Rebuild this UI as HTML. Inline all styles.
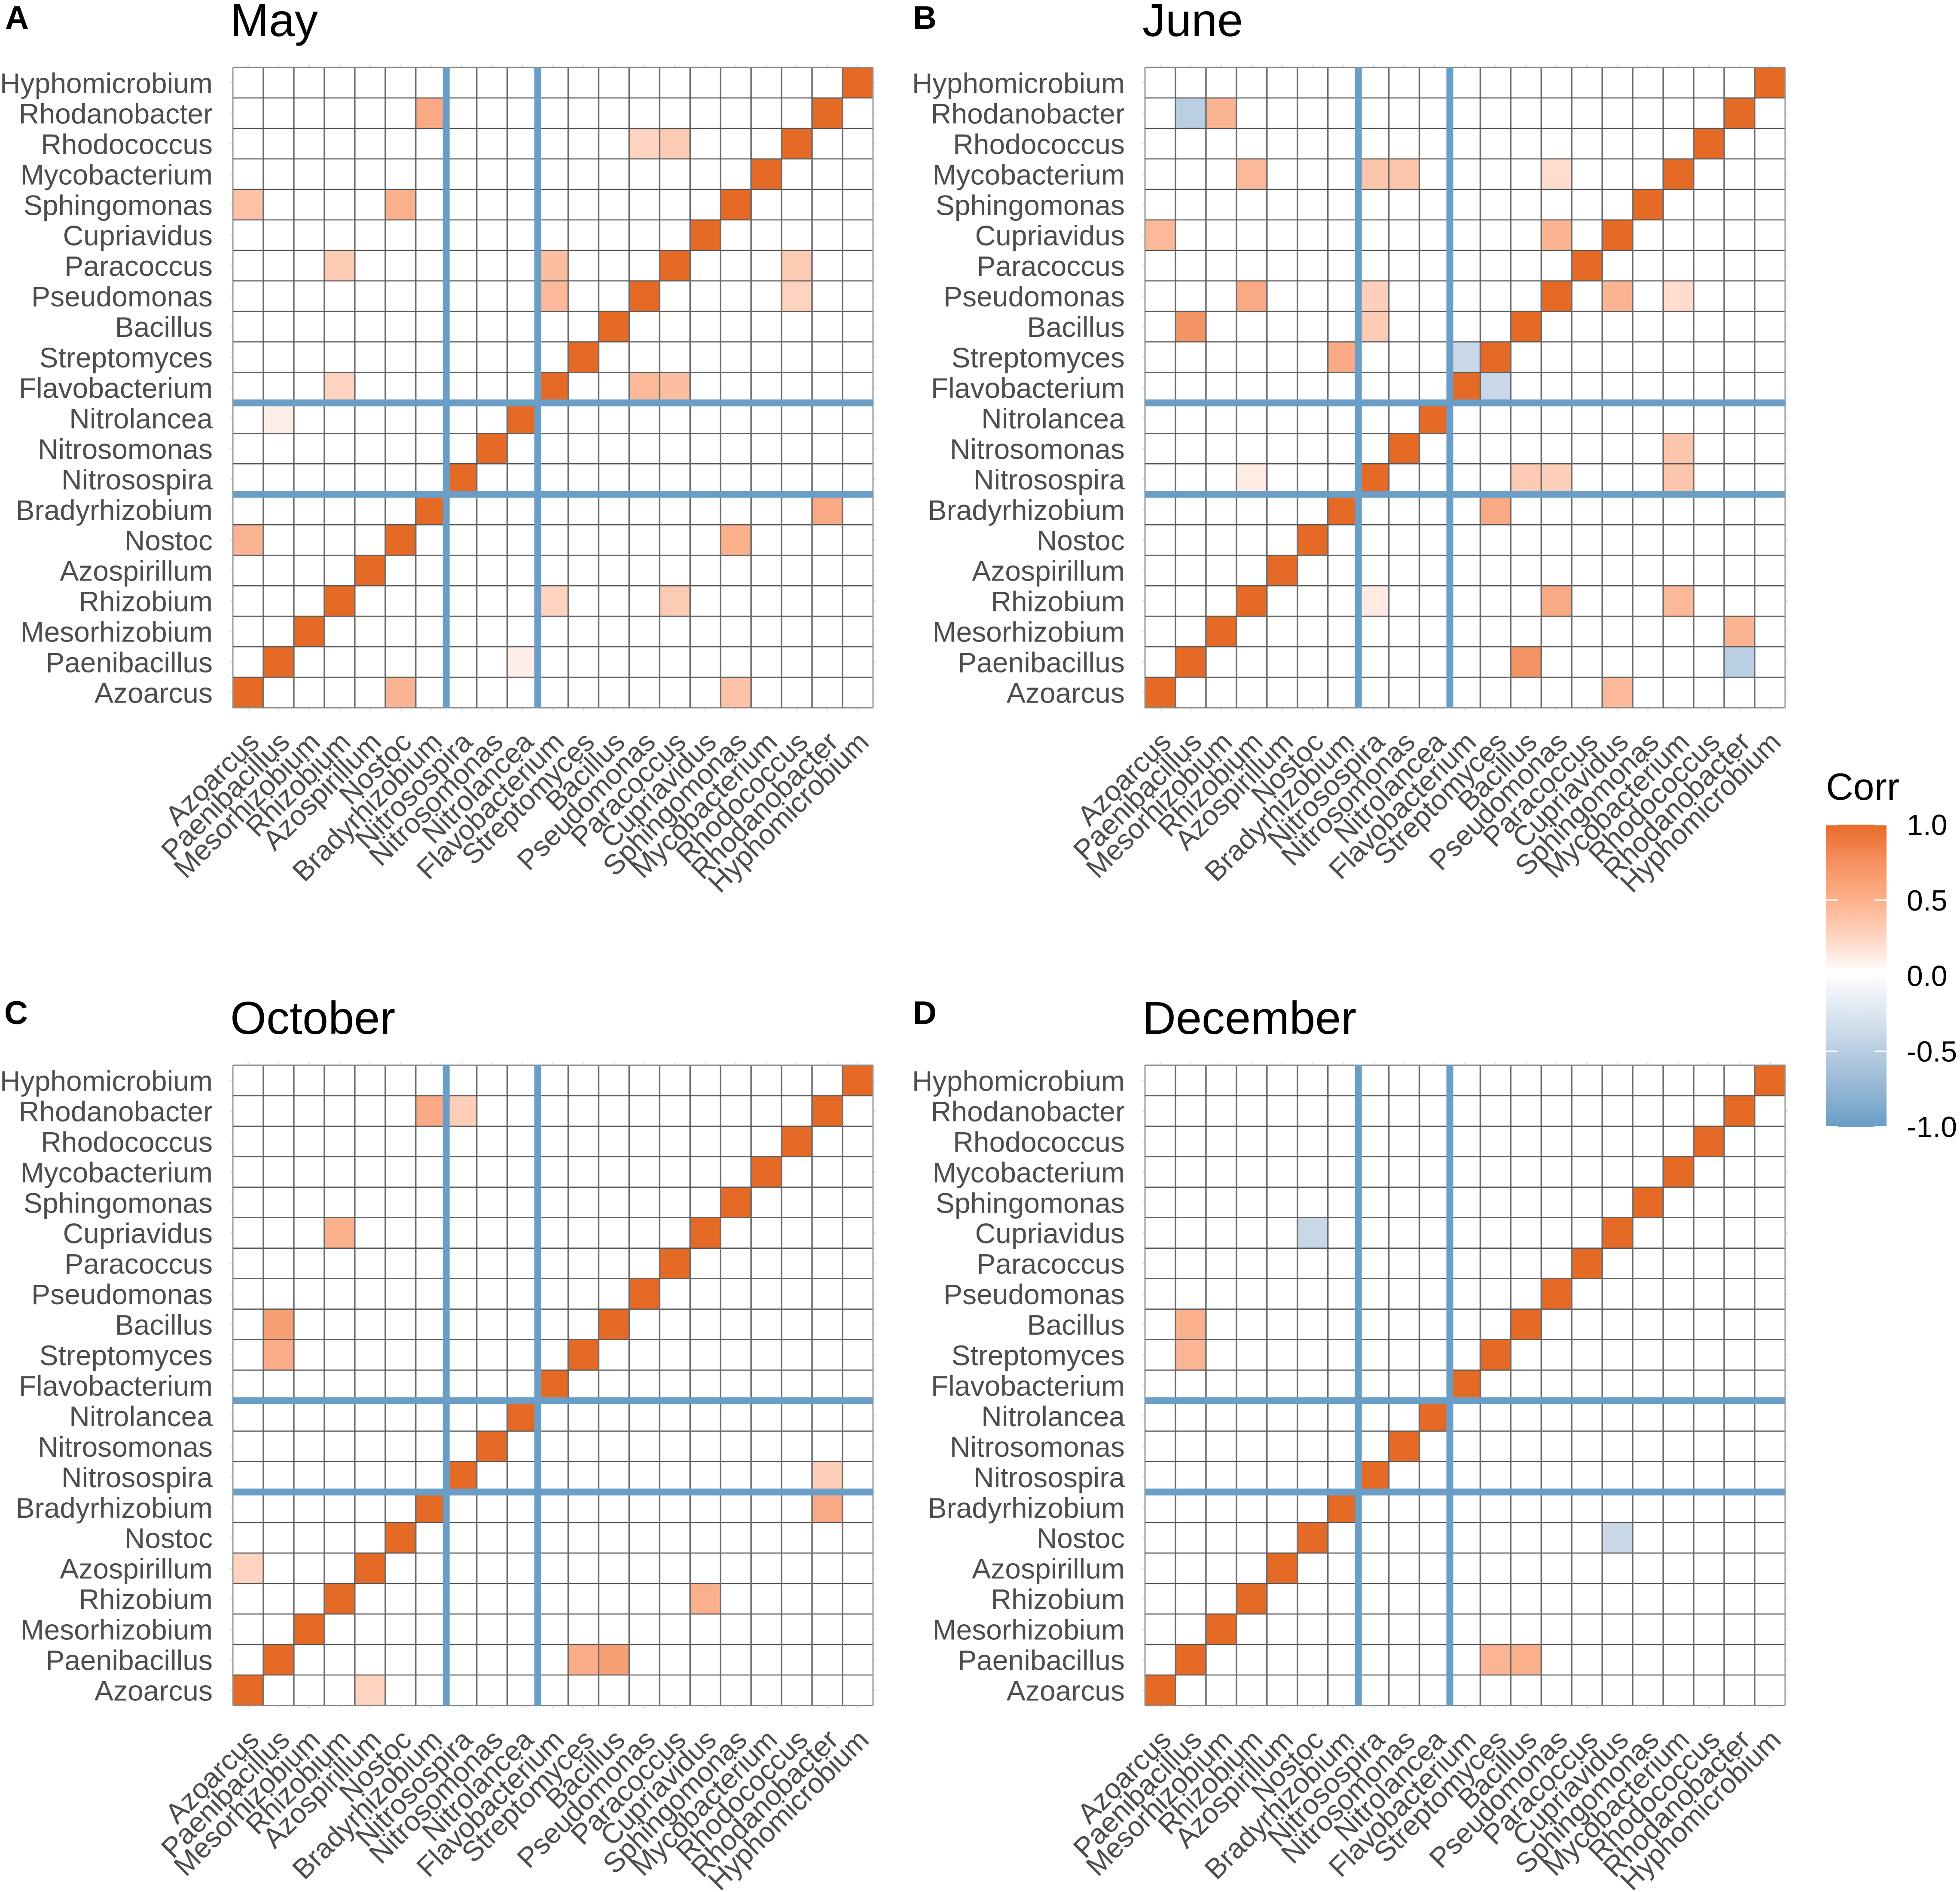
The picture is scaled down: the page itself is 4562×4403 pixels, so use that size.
<!DOCTYPE html>
<html>
<head>
<meta charset="utf-8">
<title>Correlation heatmaps</title>
<style>
html,body{margin:0;padding:0;background:#fff;}
svg{display:block;font-family:"Liberation Sans",Arial,sans-serif;}
</style>
</head>
<body>
<svg id="chart" xmlns="http://www.w3.org/2000/svg" width="4562" height="4403" viewBox="0 0 4562 4403">
  <defs>
    <linearGradient id="corr-gradient" x1="0" y1="0" x2="0" y2="1">
      <stop offset="0" stop-color="#e86a28"/>
      <stop offset="0.125" stop-color="#f5915f"/>
      <stop offset="0.25" stop-color="#fdb08c"/>
      <stop offset="0.375" stop-color="#ffd6c4"/>
      <stop offset="0.49" stop-color="#ffffff"/>
      <stop offset="0.625" stop-color="#dce6f0"/>
      <stop offset="0.75" stop-color="#b9cde2"/>
      <stop offset="0.875" stop-color="#94b6d4"/>
      <stop offset="1" stop-color="#6a9ec6"/>
    </linearGradient>
  </defs>
  <g id="root"></g>
</svg>
<script>
const categories = ["Azoarcus","Paenibacillus","Mesorhizobium","Rhizobium","Azospirillum","Nostoc","Bradyrhizobium","Nitrosospira","Nitrosomonas","Nitrolancea","Flavobacterium","Streptomyces","Bacillus","Pseudomonas","Paracoccus","Cupriavidus","Sphingomonas","Mycobacterium","Rhodococcus","Rhodanobacter","Hyphomicrobium"];
const groupBoundaries = [7, 10];
const legendTicks = [1.0, 0.5, 0.0, -0.5, -1.0];
const legendTickLabels = ["1.0","0.5","0.0","-0.5","-1.0"];
const panelTitles = ["May","June","October","December"];
const panelLetters = ["A","B","C","D"];
const diagonalValue = 1;

// [row category, column category, correlation]; each pair is drawn on both sides of the diagonal
const mayCorr = [
  ["Rhodanobacter","Bradyrhizobium",0.55],
  ["Rhodococcus","Pseudomonas",0.3],
  ["Rhodococcus","Paracoccus",0.35],
  ["Sphingomonas","Azoarcus",0.4],
  ["Sphingomonas","Nostoc",0.5],
  ["Paracoccus","Rhizobium",0.35],
  ["Paracoccus","Flavobacterium",0.42],
  ["Pseudomonas","Flavobacterium",0.45],
  ["Flavobacterium","Rhizobium",0.3],
  ["Nitrolancea","Paenibacillus",0.12],
  ["Nostoc","Azoarcus",0.48]
];
const juneCorr = [
  ["Rhodanobacter","Paenibacillus",-0.47],
  ["Rhodanobacter","Mesorhizobium",0.48],
  ["Mycobacterium","Rhizobium",0.45],
  ["Mycobacterium","Nitrosospira",0.38],
  ["Mycobacterium","Nitrosomonas",0.38],
  ["Mycobacterium","Pseudomonas",0.25],
  ["Cupriavidus","Azoarcus",0.45],
  ["Cupriavidus","Pseudomonas",0.48],
  ["Pseudomonas","Rhizobium",0.55],
  ["Pseudomonas","Nitrosospira",0.32],
  ["Bacillus","Paenibacillus",0.72],
  ["Bacillus","Nitrosospira",0.35],
  ["Streptomyces","Bradyrhizobium",0.55],
  ["Streptomyces","Flavobacterium",-0.38],
  ["Nitrosospira","Rhizobium",0.14]
];
const octoberCorr = [
  ["Rhodanobacter","Bradyrhizobium",0.55],
  ["Rhodanobacter","Nitrosospira",0.33],
  ["Cupriavidus","Rhizobium",0.5],
  ["Bacillus","Paenibacillus",0.62],
  ["Streptomyces","Paenibacillus",0.52],
  ["Azospirillum","Azoarcus",0.3]
];
const decemberCorr = [
  ["Cupriavidus","Nostoc",-0.38],
  ["Bacillus","Paenibacillus",0.5],
  ["Streptomyces","Paenibacillus",0.47]
];

const NS = "http://www.w3.org/2000/svg";
const root = document.getElementById("root");

const CELL = 70.95;
const PANEL = CELL * 21;
const LABEL_COLOR = "#4d4d4d";
const LINE_COLOR = "#6a9ec6";
const LABEL_SIZE = 66;

function el(tag, attrs, parent) {
  const n = document.createElementNS(NS, tag);
  for (const k in attrs) n.setAttribute(k, attrs[k]);
  (parent || root).appendChild(n);
  return n;
}
function hex(c) { return [parseInt(c.slice(1,3),16), parseInt(c.slice(3,5),16), parseInt(c.slice(5,7),16)]; }
const posStops = ["#ffffff","#ffdccd","#fbb08c","#f38f5f","#e56a26"];
const negStops = ["#ffffff","#dce6f0","#b7cce2","#94b6d4","#6a9ec6"];
function colorScale(v) {
  const stops = v >= 0 ? posStops : negStops;
  const t = Math.min(1, Math.abs(v)) * 4;
  const i = Math.min(3, Math.floor(t));
  const f = t - i;
  const a = hex(stops[i]), b = hex(stops[i + 1]);
  return "rgb(" + a.map((x, k) => Math.round(x + (b[k] - x) * f)).join(",") + ")";
}

function drawPanel(opts) {
  const g = el("g", {});
  
  
  const left = opts.left, top = opts.top, bottom = top + PANEL;
  const xScale = i => left + i * CELL;
  const yScale = i => bottom - i * CELL;
  const n = categories.length;

  const letter = el("text", {x: opts.letterX, y: opts.letterY, "font-size": 76, "font-weight": "bold", fill: "#000"}, g);
  letter.textContent = opts.letter;
  
  

  const title = el("text", {x: left - 6, y: top - 73, "font-size": 108, fill: "#000"}, g);
  title.textContent = opts.title;
  
  

  // faint ticks
  for (let i = 0; i < n; i++) {
    const tx = xScale(i + 0.5), ty = yScale(i + 0.5);
    for (const [x1, y1, x2, y2] of [[tx, bottom, tx, bottom + 7], [tx, top - 7, tx, top], [left - 7, ty, left, ty], [left + PANEL, ty, left + PANEL + 7, ty]]) {
      const tick = el("line", {x1, y1, x2, y2, stroke: "#e2e2e2", "stroke-width": 3}, g);
      
      
    }
  }

  const bg = el("rect", {x: left, y: top, width: PANEL, height: PANEL, fill: "#fff"}, g);
  
  

  function drawCell(rowIdx, colIdx, v) {
    const cell = el("rect", {x: xScale(colIdx), y: yScale(rowIdx + 1), width: CELL, height: CELL, fill: colorScale(v)}, g);
    
    
  }
  categories.forEach((c, i) => drawCell(i, i, diagonalValue));
  opts.data.forEach(d => {
    const r = categories.indexOf(d[0]), c = categories.indexOf(d[1]);
    drawCell(r, c, d[2]);
    drawCell(c, r, d[2]);
  });

  // grid lines
  for (let i = 0; i <= n; i++) {
    const edge = i === 0 || i === n;
    const v = el("line", {x1: xScale(i), y1: top, x2: xScale(i), y2: bottom, stroke: edge ? "#999999" : "#6e6e6e", "stroke-width": edge ? 3 : 3.5}, g);
    
    
    const h = el("line", {x1: left, y1: yScale(i), x2: left + PANEL, y2: yScale(i), stroke: edge ? "#8a8a8a" : "#585858", "stroke-width": edge ? 3 : 2.6}, g);
    
    
  }

  // group separators
  groupBoundaries.forEach(b => {
    const v = el("line", {x1: xScale(b), y1: top, x2: xScale(b), y2: bottom, stroke: LINE_COLOR, "stroke-width": 16}, g);
    
    
    const h = el("line", {x1: left, y1: yScale(b), x2: left + PANEL, y2: yScale(b), stroke: LINE_COLOR, "stroke-width": 16}, g);
    
    
  });

  // axis labels
  categories.forEach((c, i) => {
    const yl = el("text", {x: left - 47, y: yScale(i + 0.5) + 24, "font-size": LABEL_SIZE, "text-anchor": "end", fill: LABEL_COLOR}, g);
    yl.textContent = c;
    
    
    const xx = xScale(i + 0.5) + 29.5, xy = bottom + 84;
    const xl = el("text", {x: xx, y: xy, transform: "rotate(-45 " + xx + " " + xy + ")", "font-size": LABEL_SIZE, "text-anchor": "end", fill: LABEL_COLOR}, g);
    xl.textContent = c;
    
    
  });
}

const LEFT_A = 542, LEFT_B = 2665, TOP_A = 157, TOP_C = 2479;
drawPanel({title: panelTitles[0], letter: panelLetters[0], left: LEFT_A, top: TOP_A, letterX: 12, letterY: 67, data: mayCorr});
drawPanel({title: panelTitles[1], letter: panelLetters[1], left: LEFT_B, top: TOP_A, letterX: 2125, letterY: 67, data: juneCorr});
drawPanel({title: panelTitles[2], letter: panelLetters[2], left: LEFT_A, top: TOP_C, letterX: 10, letterY: 2383, data: octoberCorr});
drawPanel({title: panelTitles[3], letter: panelLetters[3], left: LEFT_B, top: TOP_C, letterX: 2125, letterY: 2383, data: decemberCorr});

// Legend
const legend = el("g", {});


const legendTitle = el("text", {x: 4250, y: 1861, "font-size": 88, fill: "#000"}, legend);
legendTitle.textContent = "Corr";


const barX = 4250, barW = 141, barTop = 1919, barBottom = 2622;
const legendY = v => barTop + (1 - v) / 2 * (barBottom - barTop);
const bar = el("rect", {x: barX, y: barTop, width: barW, height: barBottom - barTop, fill: "url(#corr-gradient)"}, legend);


legendTicks.forEach((v, i) => {
  const y = legendY(v);
  const t1 = el("line", {x1: barX, y1: y, x2: barX + 28, y2: y, stroke: "#fff", "stroke-width": 3}, legend);
  
  
  const t2 = el("line", {x1: barX + barW - 28, y1: y, x2: barX + barW, y2: y, stroke: "#fff", "stroke-width": 3}, legend);
  
  
  const lab = el("text", {x: 4438, y: y + 24, "font-size": 68, fill: "#000"}, legend);
  lab.textContent = legendTickLabels[i];
  
  
});
</script>
</body>
</html>
